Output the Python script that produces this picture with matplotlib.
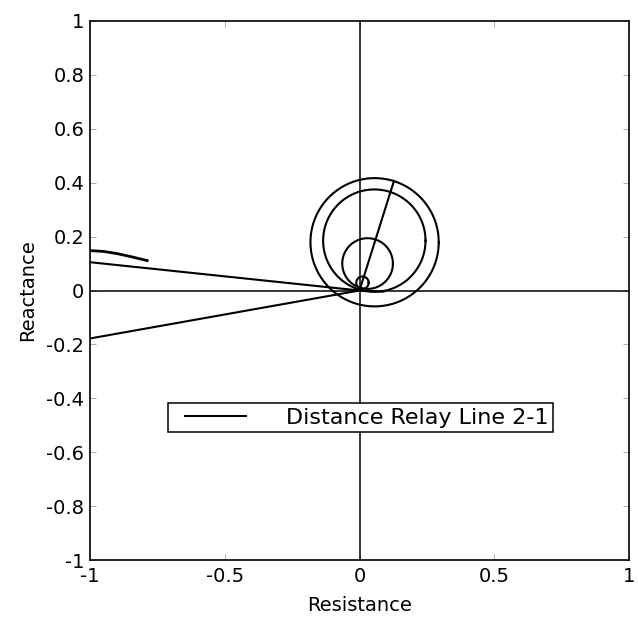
import numpy as np
import matplotlib.pyplot as plt
from matplotlib.legend_handler import HandlerLine2D

plt.rcParams['font.family'] = ['DejaVu Sans']

# mho characteristics: (centre R, centre X, radius)
circle_r0 = [0.056, 0.055, 0.030, 0.011]
circle_x0 = [0.179, 0.185, 0.100, 0.029]
circle_rad = [0.238, 0.190, 0.094, 0.023]

# line impedance direction
line_r = [0.0, 0.128]
line_x = [0.0, 0.407]

# apparent impedance trajectories
traj1_r = [-1.0, -0.95, -0.90, -0.85, -0.788]
traj1_x = [0.148, 0.145, 0.137, 0.126, 0.111]
traj2_r = [-1.0, 0.0, 0.09]
traj2_x = [0.105, 0.0, -0.004]
traj3_r = [-1.0, 0.0]
traj3_x = [-0.178, 0.0]

legend_label = 'Distance Relay Line 2-1'


def main():
    fig = plt.figure(figsize=(6.38, 6.17), dpi=100)
    ax = fig.add_axes([90 / 638, 1 - 560 / 617, 539 / 638, 539 / 617])

    # axis cross lines
    ax.plot([-1, 1], [0, 0], color='black', lw=1.1)
    ax.plot([0, 0], [-1, 1], color='black', lw=1.1)

    h, = ax.plot(line_r, line_x, color='black', lw=1.5, label=legend_label)
    t = np.linspace(0, 2 * np.pi, 200)
    for r0, x0, rad in zip(circle_r0, circle_x0, circle_rad):
        ax.plot(r0 + rad * np.cos(t), x0 + rad * np.sin(t), color='black', lw=1.5)
    ax.plot(traj1_r, traj1_x, color='black', lw=2.0)
    ax.plot(traj2_r, traj2_x, color='black', lw=1.5)
    ax.plot(traj3_r, traj3_x, color='black', lw=1.5)

    ax.set_xlim(-1, 1)
    ax.set_ylim(-1, 1)
    ax.set_xticks([-1, -0.5, 0, 0.5, 1])
    ax.set_xticklabels(['-1', '-0.5', '0', '0.5', '1'])
    ax.set_yticks(np.round(np.arange(-1, 1.01, 0.2), 1))
    ax.set_yticklabels(['-1', '-0.8', '-0.6', '-0.4', '-0.2', '0',
                        '0.2', '0.4', '0.6', '0.8', '1'])
    ax.tick_params(direction='in', length=4, width=0.7, labelsize=14,
                   top=True, right=True, colors='#aaaaaa', labelcolor='black')
    ax.tick_params(axis='x', pad=5)
    ax.tick_params(axis='y', pad=4)
    for s in ax.spines.values():
        s.set_linewidth(1.2)
    ax.set_xlabel('Resistance', fontsize=14, labelpad=7)
    ax.set_ylabel('Reactance', fontsize=14, labelpad=7)

    leg = ax.legend(handles=[h], loc='upper left', bbox_to_anchor=(0.1447, 0.291),
                    handler_map={h: HandlerLine2D(marker_pad=0.55, numpoints=2)},
                    fontsize=16, handlelength=3.85, handletextpad=1.25,
                    fancybox=False, edgecolor='black', framealpha=1,
                    borderpad=0.2, borderaxespad=0)
    leg.get_frame().set_linewidth(1.1)

    fig.savefig('out.png', dpi=100)


if __name__ == '__main__':
    main()
